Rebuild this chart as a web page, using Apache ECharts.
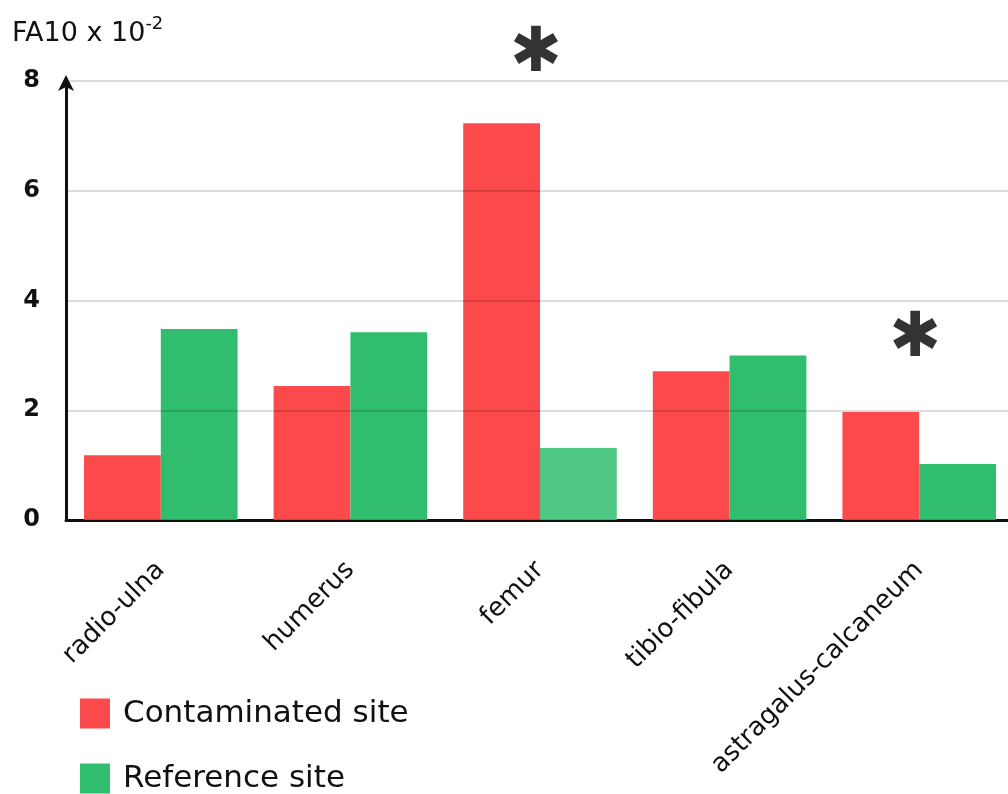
<!DOCTYPE html>
<html>
<head>
<meta charset="utf-8">
<script src="https://cdn.jsdelivr.net/npm/echarts@6/dist/echarts.min.js"></script>
<style>
  html, body { margin: 0; padding: 0; background: #fff; }
  #chart { width: 1008px; height: 794px; }
</style>
</head>
<body>
<div id="chart"></div>
<script>
// Fluctuating asymmetry (FA10) by bone, two sampling sites
const bones = ['radio-ulna', 'humerus', 'femur', 'tibio-fibula', 'astragalus-calcaneum'];
const contaminated = [1.18, 2.44, 7.23, 2.71, 1.97];
const reference = [3.48, 3.42, 1.31, 3.00, 1.02];
// heights of the significance asterisks (null = no marker)
const significance = [null, null, 8.47, null, 3.29];
const yTicks = [0, 2, 4, 6, 8];

const RED = '#fc4a4c';
const GREEN = '#30bd6d';
const GREEN_LIGHT = '#4ec882';
const FONT = '"DejaVu Sans", "Noto Sans", sans-serif';

const legendText = { fontSize: 31, color: '#111', fontFamily: FONT, padding: [0, 0, 0, 8] };

const chart = echarts.init(document.getElementById('chart'));
chart.setOption({
  animation: false,
  backgroundColor: '#fff',
  textStyle: { fontFamily: FONT },
  grid: { left: 66, width: 948, top: 81, height: 439, containLabel: false, outerBoundsMode: 'none' },
  graphic: [{
    type: 'text',
    left: 12,
    top: 15,
    style: {
      text: '{b|FA10 x 10}{s|-2}',
      rich: {
        b: { fontSize: 27, fontFamily: FONT, fill: '#111', verticalAlign: 'bottom' },
        s: { fontSize: 18, fontFamily: FONT, fill: '#111', padding: [0, 0, 14, 0], verticalAlign: 'bottom' }
      }
    }
  }],
  // one legend block per entry so they stack vertically
  legend: [
    {
      left: 80, top: 698, padding: 0,
      itemWidth: 30, itemHeight: 30,
      icon: 'rect',
      data: ['Contaminated site'],
      textStyle: legendText
    },
    {
      left: 80, top: 763, padding: 0,
      itemWidth: 30, itemHeight: 30,
      icon: 'rect',
      data: ['Reference site'],
      textStyle: legendText
    }
  ],
  xAxis: {
    type: 'category',
    data: bones,
    axisTick: { show: false },
    axisLine: { lineStyle: { color: '#111', width: 3 } },
    axisLabel: {
      rotate: 45,
      margin: 46,
      fontSize: 26,
      color: '#111',
      fontFamily: FONT,
      interval: 0
    }
  },
  yAxis: {
    type: 'value',
    min: yTicks[0],
    max: yTicks[yTicks.length - 1],
    interval: 2,
    z: 3,
    axisLine: {
      show: true,
      symbol: ['none', 'arrow'],
      symbolSize: [12, 16],
      symbolOffset: [0, 6],
      lineStyle: { color: '#111', width: 3 }
    },
    axisTick: { show: false },
    splitLine: { lineStyle: { color: 'rgba(0,0,0,0.14)', width: 2 } },
    axisLabel: {
      margin: 26,
      fontSize: 24,
      fontWeight: 'bold',
      color: '#111',
      fontFamily: FONT
    }
  },
  series: [
    {
      name: 'Contaminated site',
      type: 'bar',
      data: contaminated,
      barGap: '0%',
      barCategoryGap: '19%',
      itemStyle: { color: RED }
    },
    {
      name: 'Reference site',
      type: 'bar',
      data: reference.map((v, i) => (i === 2 ? { value: v, itemStyle: { color: GREEN_LIGHT } } : v)),
      itemStyle: { color: GREEN }
    },
    {
      name: 'significance',
      type: 'scatter',
      data: significance,
      symbolSize: 0,
      clip: false,
      silent: true,
      z: 5,
      itemStyle: { color: '#000' },
      label: {
        show: true,
        position: 'inside',
        formatter: '\u2731',
        fontSize: 62,
        color: '#000',
        fontFamily: FONT,
        offset: [-4, 0]
      }
    }
  ]
});
</script>
</body>
</html>
